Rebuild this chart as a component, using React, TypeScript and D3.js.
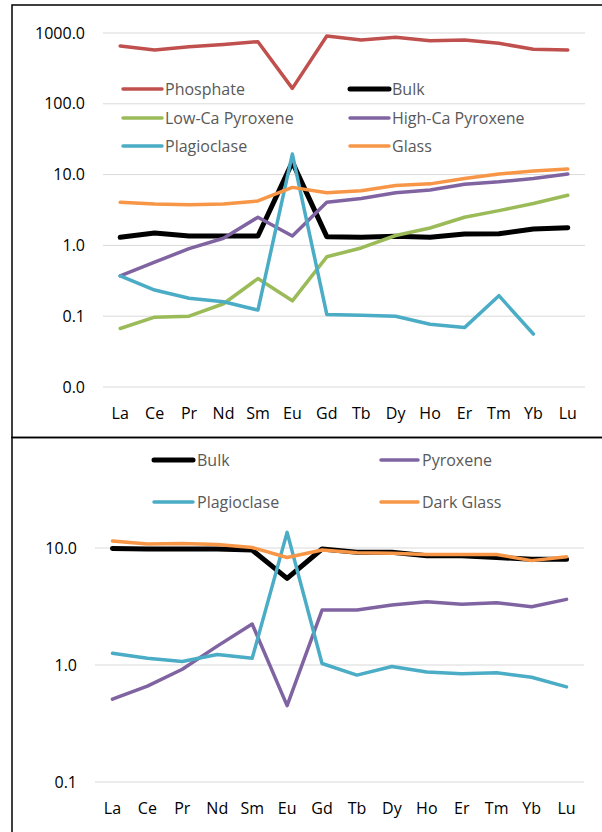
import React from 'react';
import * as d3 from 'd3';

// REE categories shared by both panels
const elements = ['La', 'Ce', 'Pr', 'Nd', 'Sm', 'Eu', 'Gd', 'Tb', 'Dy', 'Ho', 'Er', 'Tm', 'Yb', 'Lu'];

// top panel series (CI-normalised)
const phosphate = [655, 575, 640, 690, 754, 165, 907, 797, 869, 778, 797, 715, 589, 575];
const bulkTop = [1.3, 1.5, 1.36, 1.36, 1.36, 15, 1.33, 1.3, 1.35, 1.3, 1.45, 1.46, 1.7, 1.78];
const lowCaPyroxene = [0.067, 0.097, 0.1, 0.15, 0.34, 0.165, 0.69, 0.92, 1.38, 1.76, 2.5, 3.1, 3.9, 5.1];
const highCaPyroxene = [0.37, 0.58, 0.9, 1.26, 2.5, 1.36, 4.06, 4.6, 5.55, 6.05, 7.3, 7.9, 8.8, 10.2];
const plagioclaseTop = [0.37, 0.234, 0.179, 0.16, 0.122, 19.5, 0.106, 0.103, 0.1, 0.077, 0.069, 0.195, 0.056, null];
const glass = [4.06, 3.85, 3.76, 3.85, 4.24, 6.6, 5.55, 5.9, 7.0, 7.4, 8.8, 10.2, 11.2, 12.0];

// bottom panel series
const bulkBottom = [9.9, 9.8, 9.8, 9.8, 9.6, 5.5, 9.8, 9.2, 9.2, 8.6, 8.6, 8.3, 8.0, 8.0];
const pyroxene = [0.51, 0.66, 0.92, 1.45, 2.24, 0.45, 2.95, 2.95, 3.26, 3.47, 3.3, 3.4, 3.15, 3.64];
const plagioclaseBottom = [1.26, 1.14, 1.07, 1.23, 1.14, 13.6, 1.03, 0.82, 0.97, 0.87, 0.84, 0.86, 0.785, 0.65];
const darkGlass = [11.5, 10.8, 10.9, 10.7, 10.1, 8.3, 9.6, 9.1, 9.0, 8.8, 8.8, 8.8, 7.8, 8.4];

const topTicks = [0.01, 0.1, 1, 10, 100, 1000];
const bottomTicks = [0.1, 1, 10];

const FONT = "'Open Sans', 'Noto Sans', sans-serif";

type Series = { name: string; values: (number | null)[]; color: string; width: number };

const topSeries: Series[] = [
  { name: 'Phosphate', values: phosphate, color: '#C0504D', width: 3.5 },
  { name: 'Bulk', values: bulkTop, color: '#000000', width: 5 },
  { name: 'Low-Ca Pyroxene', values: lowCaPyroxene, color: '#9BBB59', width: 3.5 },
  { name: 'High-Ca Pyroxene', values: highCaPyroxene, color: '#8064A2', width: 3.5 },
  { name: 'Plagioclase', values: plagioclaseTop, color: '#4BACC6', width: 3.5 },
  { name: 'Glass', values: glass, color: '#F79646', width: 3.5 },
];

const bottomSeries: Series[] = [
  { name: 'Bulk', values: bulkBottom, color: '#000000', width: 5 },
  { name: 'Pyroxene', values: pyroxene, color: '#8064A2', width: 3.5 },
  { name: 'Plagioclase', values: plagioclaseBottom, color: '#4BACC6', width: 3.5 },
  { name: 'Dark Glass', values: darkGlass, color: '#F79646', width: 3.5 },
];

type PanelProps = {
  series: Series[];
  ticks: number[];
  xRange: [number, number];
  yDomain: [number, number];
  yRange: [number, number];
  labelRight: number;
  xLabelY: number;
  legendRows: number[];
  legendCols: { x1: number; x2: number; tx: number }[];
};

const Panel = ({ series, ticks, xRange, yDomain, yRange, labelRight, xLabelY, legendRows, legendCols }: PanelProps) => {
  const x = d3.scalePoint<string>().domain(elements).range(xRange).padding(0.5);
  const y = d3.scaleLog().domain(yDomain).range(yRange);
  const line = d3
    .line<number | null>()
    .defined((d) => d != null)
    .x((_, i) => x(elements[i]) as number)
    .y((d) => y(d as number));

  return (
    <g>
      {ticks.map((t) => (
        <g key={t}>
          <line x1={xRange[0]} x2={xRange[1]} y1={y(t)} y2={y(t)} stroke="#D9D9D9" strokeWidth={1} />
          <text x={labelRight} y={y(t)} dy="0.35em" textAnchor="end" fontSize={16} fill="#000">
            {t.toFixed(1)}
          </text>
        </g>
      ))}
      {elements.map((e) => (
        <text key={e} x={x(e)} y={xLabelY} dy="0.35em" textAnchor="middle" fontSize={16} fill="#000">
          {e}
        </text>
      ))}
      {series.map((s) => (
        <path
          key={s.name}
          d={line(s.values) || ''}
          fill="none"
          stroke={s.color}
          strokeWidth={s.width}
          strokeLinejoin="round"
          strokeLinecap="round"
        />
      ))}
      {series.map((s, i) => {
        const row = legendRows[Math.floor(i / 2)];
        const col = legendCols[i % 2];
        return (
          <g key={'lg-' + s.name}>
            <line x1={col.x1} x2={col.x2} y1={row} y2={row} stroke={s.color} strokeWidth={s.width} strokeLinecap="round" />
            <text x={col.tx} y={row} dy="0.35em" fontSize={16} fill="#595959">
              {s.name}
            </text>
          </g>
        );
      })}
    </g>
  );
};

export default function App() {
  return (
    <svg
      width={602}
      height={832}
      style={{ position: 'absolute', left: 0, top: 0, background: '#fff' }}
      fontFamily={FONT}
    >
      <rect x={0} y={0} width={602} height={832} fill="#fff" />
      <Panel
        series={topSeries}
        ticks={topTicks}
        xRange={[103, 585]}
        yDomain={[0.01, 1000]}
        yRange={[387, 33]}
        labelRight={85}
        xLabelY={413}
        legendRows={[89, 118, 146]}
        legendCols={[
          { x1: 123, x2: 162, tx: 165 },
          { x1: 350, x2: 389, tx: 392 },
        ]}
      />
      <Panel
        series={bottomSeries}
        ticks={bottomTicks}
        xRange={[95, 584]}
        yDomain={[0.1, 10]}
        yRange={[782, 548]}
        labelRight={77}
        xLabelY={808}
        legendRows={[460, 502]}
        legendCols={[
          { x1: 154, x2: 193, tx: 197 },
          { x1: 381, x2: 418, tx: 422 },
        ]}
      />
      {/* panel frames */}
      <path d="M612,5 H12 V437.5 H612" fill="none" stroke="#000" strokeWidth={1.5} />
      <path d="M612,437.5 H12 V840" fill="none" stroke="#000" strokeWidth={1.5} />
    </svg>
  );
}
